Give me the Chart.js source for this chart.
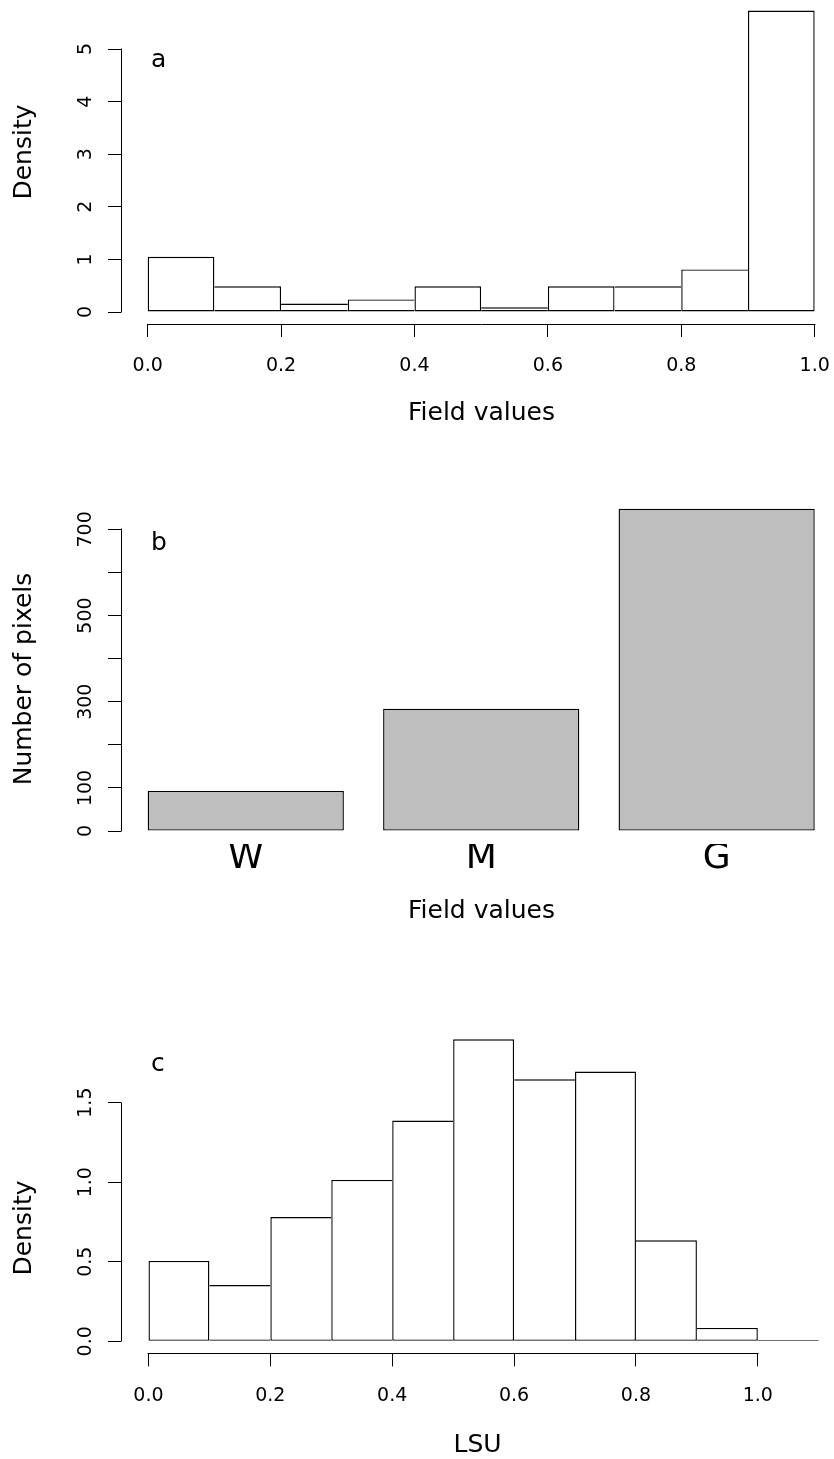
<!DOCTYPE html>
<html><head><meta charset="utf-8">
<script src="https://cdn.jsdelivr.net/npm/chart.js@4.4.1/dist/chart.umd.min.js"></script>
<style>
html,body{margin:0;padding:0;background:#fff;overflow:hidden;width:834px;height:1459px;position:relative;}
canvas{position:absolute;left:0;display:block;}
</style></head><body>
<canvas id="ca" width="842" height="440" style="top:0px"></canvas>
<canvas id="cb" width="842" height="520" style="top:440px"></canvas>
<canvas id="cc" width="834" height="510" style="top:960px"></canvas>
<script>
// ---------- Panel a: histogram of field values (density) ----------
const binWidthA = 0.1;
const binStartsA = [0.0, 0.1, 0.2, 0.3, 0.4, 0.5, 0.6, 0.7, 0.8, 0.9];
const densityA = [1.05, 0.49, 0.16, 0.24, 0.49, 0.09, 0.49, 0.49, 0.81, 5.73];
const xTicksA = [0, 0.2, 0.4, 0.6, 0.8, 1.0];
const xTickLabelsA = ['0.0', '0.2', '0.4', '0.6', '0.8', '1.0'];
const yTicksA = [0, 1, 2, 3, 4, 5];
const yTickLabelsA = ['0', '1', '2', '3', '4', '5'];

// ---------- Panel b: number of pixels per class ----------
const categoriesB = ['W', 'M', 'G'];
const countsB = [93, 284, 748];
const yTicksB = [0, 100, 200, 300, 400, 500, 600, 700];
const yTickLabelsB = ['0', '100', '', '300', '', '500', '', '700'];

// ---------- Panel c: histogram of LSU (density) ----------
const binWidthC = 0.1;
const binStartsC = [0.0, 0.1, 0.2, 0.3, 0.4, 0.5, 0.6, 0.7, 0.8, 0.9, 1.0];
const densityC = [0.505, 0.354, 0.781, 1.014, 1.387, 1.898, 1.647, 1.695, 0.635, 0.084, 0.008];
const xTicksC = [0, 0.2, 0.4, 0.6, 0.8, 1.0];
const xTickLabelsC = ['0.0', '0.2', '0.4', '0.6', '0.8', '1.0'];
const yTicksC = [0, 0.5, 1.0, 1.5];
const yTickLabelsC = ['0.0', '0.5', '1.0', '1.5'];

const FONT = "'DejaVu Sans', 'Liberation Sans', sans-serif";
Chart.defaults.font.family = FONT;
Chart.defaults.color = '#000';

function alignPx(p) { return Math.round(p - 0.5) + 0.5; }

// R-style axes: axis lines only between first and last tick, rotated y labels, titles, panel letter
const rAxes = {
  id: 'rAxes',
  afterDraw(chart, args, o) {
    const ctx = chart.ctx, ca = chart.chartArea, xs = chart.scales.x, ys = chart.scales.y;
    ctx.save();
    ctx.strokeStyle = '#000'; ctx.lineWidth = 1; ctx.fillStyle = '#000';
    const yT = o.yTicks;
    const lx = alignPx(ca.left);
    ctx.beginPath();
    ctx.moveTo(lx, Math.round(ys.getPixelForValue(yT[0])) + 0.5);
    ctx.lineTo(lx, Math.round(ys.getPixelForValue(yT[yT.length - 1])) - 0.5);
    ctx.stroke();
    if (o.xTicks) {
      const by = alignPx(ca.bottom);
      ctx.beginPath();
      ctx.moveTo(Math.round(xs.getPixelForValue(o.xTicks[0])) - 0.5, by);
      ctx.lineTo(Math.round(xs.getPixelForValue(o.xTicks[o.xTicks.length - 1])) + 0.5, by);
      ctx.stroke();
    }
    ctx.font = '19px ' + FONT; ctx.textAlign = 'center'; ctx.textBaseline = 'alphabetic';
    yT.forEach((v, i) => {
      const t = o.yLabels[i]; if (!t) return;
      ctx.save();
      ctx.translate(ca.left - o.labelGap, ys.getPixelForValue(v));
      ctx.rotate(-Math.PI / 2);
      ctx.fillText(t, 0, 0);
      ctx.restore();
    });
    ctx.font = '25px ' + FONT;
    ctx.save();
    ctx.translate(o.titleX, o.titleY);
    ctx.rotate(-Math.PI / 2);
    ctx.fillText(o.yTitle, 0, 0);
    ctx.restore();
    ctx.textAlign = 'left';
    ctx.font = '25px ' + FONT;
    ctx.fillText(o.letter, ca.left + o.letterDx, o.letterY);
    ctx.restore();
  }
};

// border widths so that shared edges between adjacent histogram bars are drawn once
function histBorder(values, w) {
  return (c) => {
    const i = c.dataIndex, n = values.length;
    const left = (i === 0 || values[i - 1] < values[i]) ? w : 0;
    const right = (i === n - 1 || values[i] >= values[i + 1]) ? w : 0;
    return { left: left, right: right, top: w, bottom: w };
  };
}

function noPad(s) { s.paddingLeft = 0; s.paddingRight = 0; s.paddingTop = 0; s.paddingBottom = 0; }

function histChart(id, cfg) {
  return new Chart(document.getElementById(id), {
    type: 'bar',
    data: {
      datasets: [{
        data: cfg.starts.map((s, i) => ({ x: s + cfg.binWidth / 2, y: cfg.values[i] })),
        backgroundColor: '#ffffff',
        borderColor: '#000000',
        borderWidth: histBorder(cfg.values, 1.4),
        borderSkipped: false,
        categoryPercentage: 1.0,
        barPercentage: 1.0,
        inflateAmount: 0
      }]
    },
    options: {
      responsive: false, animation: false, devicePixelRatio: 1,
      layout: { padding: { left: 0, right: 0, top: cfg.padTop, bottom: 0 } },
      plugins: {
        legend: { display: false }, tooltip: { enabled: false },
        rAxes: cfg.rAxes
      },
      scales: {
        x: {
          type: 'linear', min: cfg.xMin, max: cfg.xMax, offset: false,
          afterBuildTicks: (s) => { s.ticks = cfg.xTicks.map(v => ({ value: v })); },
          afterFit: (s) => { s.height = cfg.xHeight; noPad(s); },
          ticks: { callback: (v, i) => cfg.xLabels[i], font: { size: 19 }, padding: cfg.xPad, maxRotation: 0, minRotation: 0, autoSkip: false, color: '#000' },
          grid: { offset: false, drawOnChartArea: false, drawTicks: true, tickLength: 13, color: '#000', lineWidth: 1 },
          border: { display: false },
          title: { display: true, text: cfg.xTitle, font: { size: 25 }, color: '#000', padding: { top: 0, bottom: cfg.titlePad } }
        },
        y: {
          type: 'linear', min: cfg.yMin, max: cfg.yMax,
          afterBuildTicks: (s) => { s.ticks = cfg.yTicks.map(v => ({ value: v })); },
          afterFit: (s) => { s.width = 121; noPad(s); },
          ticks: { display: false },
          grid: { offset: false, drawOnChartArea: false, drawTicks: true, tickLength: 13, color: '#000', lineWidth: 1 },
          border: { display: false }
        }
      }
    },
    plugins: [rAxes]
  });
}

// Panel a
histChart('ca', {
  starts: binStartsA, values: densityA, binWidth: binWidthA,
  xMin: -0.04, xMax: 1.041, yMin: -0.228, yMax: 5.932,
  xTicks: xTicksA, xLabels: xTickLabelsA, yTicks: yTicksA,
  xHeight: 116, xPad: 18, padTop: 0, titlePad: 12, xTitle: 'Field values',
  rAxes: { yTicks: yTicksA, yLabels: yTickLabelsA, xTicks: xTicksA, labelGap: 30,
           yTitle: 'Density', titleX: 31, titleY: 152, letter: 'a', letterDx: 30, letterY: 67 }
});

// Panel b
new Chart(document.getElementById('cb'), {
  type: 'bar',
  data: {
    datasets: [{
      data: categoriesB.map((c, i) => ({ x: 0.7 + 1.2 * i, y: countsB[i] })),
      backgroundColor: '#bebebe',
      borderColor: '#000000',
      borderWidth: 1.4,
      borderSkipped: false,
      categoryPercentage: 1.0,
      barPercentage: 1 / 1.2,
      inflateAmount: 0
    }]
  },
  options: {
    responsive: false, animation: false, devicePixelRatio: 1,
    layout: { padding: { left: 0, right: 0, top: 55.4, bottom: 0 } },
    plugins: {
      legend: { display: false }, tooltip: { enabled: false },
      rAxes: { yTicks: yTicksB, yLabels: yTickLabelsB, xTicks: null, labelGap: 30,
               yTitle: 'Number of pixels', titleX: 31, titleY: 239, letter: 'b', letterDx: 30, letterY: 110 }
    },
    scales: {
      x: {
        type: 'linear', min: 0.064, max: 3.739, offset: false,
        afterBuildTicks: (s) => { s.ticks = categoriesB.map((c, i) => ({ value: 0.7 + 1.2 * i })); },
        afterFit: (s) => { s.height = 116; noPad(s); },
        ticks: { callback: (v, i) => categoriesB[i], font: { size: 36, lineHeight: 1 }, padding: -3, maxRotation: 0, minRotation: 0, autoSkip: false, color: '#000' },
        grid: { display: false, offset: false, drawOnChartArea: false, drawTicks: false },
        border: { display: false },
        title: { display: true, text: 'Field values', font: { size: 25 }, color: '#000', padding: { top: 0, bottom: 34 } }
      },
      y: {
        type: 'linear', min: -30.1, max: 778.8,
        afterBuildTicks: (s) => { s.ticks = yTicksB.map(v => ({ value: v })); },
        afterFit: (s) => { s.width = 121; noPad(s); },
        ticks: { display: false },
        grid: { offset: false, drawOnChartArea: false, drawTicks: true, tickLength: 13, color: '#000', lineWidth: 1 },
        border: { display: false }
      }
    }
  },
  plugins: [rAxes]
});

// Panel c
histChart('cc', {
  starts: binStartsC, values: densityC, binWidth: binWidthC,
  xMin: -0.0451, xMax: 1.125, yMin: -0.076, yMax: 1.974,
  xTicks: xTicksC, xLabels: xTickLabelsC, yTicks: yTicksC,
  xHeight: 116.6, xPad: 18, padTop: 67.2, titlePad: 10, xTitle: 'LSU',
  rAxes: { yTicks: yTicksC, yLabels: yTickLabelsC, xTicks: xTicksC, labelGap: 30,
           yTitle: 'Density', titleX: 31, titleY: 268, letter: 'c', letterDx: 30, letterY: 111 }
});
</script>
</body></html>
